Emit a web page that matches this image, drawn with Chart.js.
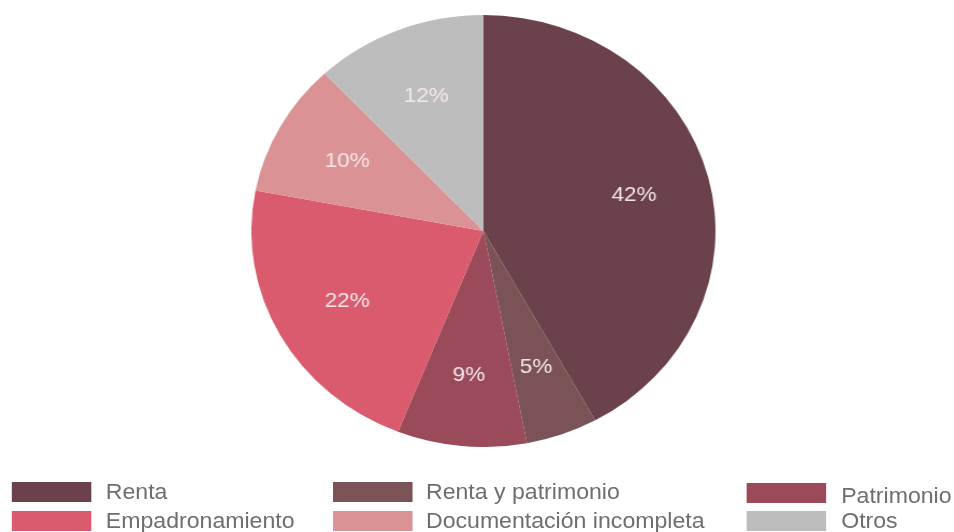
<!DOCTYPE html>
<html lang="es">
<head>
<meta charset="utf-8">
<title>Motivos</title>
<script src="https://cdn.jsdelivr.net/npm/chart.js@4/dist/chart.umd.min.js"></script>
<style>
  html, body { margin: 0; padding: 0; background: #fff; overflow: hidden; }
  /* the whole figure is drawn a little wider than tall */
  #stage {
    position: relative;
    width: 888px;
    height: 532px;
    transform: scaleX(1.0743);
    transform-origin: 0 0;
    font-family: "Liberation Sans", Arial, sans-serif;
  }
  #pie { position: absolute; left: 234px; top: 15px; }
  .item { position: absolute; height: 20px; }
  .item .box { position: absolute; left: 0; top: 0; width: 74px; height: 20px; }
  .item .txt {
    position: absolute; white-space: nowrap;
    font-size: 21.5px; line-height: 20px; color: #6e6e6e; top: 0;
  }
</style>
</head>
<body>
<div id="stage">
  <canvas id="pie" width="432" height="432"></canvas>
  <div id="legend"></div>
</div>
<script>
const categories = ["Renta", "Renta y patrimonio", "Patrimonio", "Empadronamiento", "Documentación incompleta", "Otros"];
const shares = [42, 5, 9, 22, 10, 12];
const colors = ["#6b414b", "#7b5255", "#9a4a59", "#d95b6d", "#db9294", "#bdbdbd"];

// legend grid: three columns, two rows, filled row by row
const legendCols = [
  { box: 11, text: 98.5 },
  { box: 310, text: 396.5 },
  { box: 695, text: 783 }
];
const legendRows = [482, 511];

const legend = document.getElementById("legend");
categories.forEach((name, i) => {
  const col = legendCols[i % 3];
  const top = legendRows[Math.floor(i / 3)] + (i === 2 ? 1 : 0);
  const item = document.createElement("div");
  item.className = "item";
  item.style.left = col.box + "px";
  item.style.top = top + "px";
  const box = document.createElement("div");
  box.className = "box";
  box.style.background = colors[i];
  const txt = document.createElement("div");
  txt.className = "txt";
  txt.style.left = (col.text - col.box) + "px";
  txt.style.top = (i === 2 ? 3 : 0) + "px";
  txt.textContent = name;
  item.appendChild(box);
  item.appendChild(txt);
  legend.appendChild(item);
});

// percentage labels placed at two thirds of the radius
const sliceLabels = {
  id: "sliceLabels",
  afterDatasetsDraw(chart) {
    const ctx = chart.ctx;
    const meta = chart.getDatasetMeta(0);
    ctx.save();
    ctx.font = "21px 'Liberation Sans', Arial, sans-serif";
    ctx.fillStyle = "#f5e6e9";
    ctx.textAlign = "center";
    ctx.textBaseline = "middle";
    meta.data.forEach((arc, i) => {
      const p = arc.getProps(["x", "y", "startAngle", "endAngle", "outerRadius"], true);
      const mid = (p.startAngle + p.endAngle) / 2;
      const r = p.outerRadius * 0.67;
      ctx.fillText(shares[i] + "%", p.x + Math.cos(mid) * r, p.y + Math.sin(mid) * r);
    });
    ctx.restore();
  }
};

new Chart(document.getElementById("pie").getContext("2d"), {
  type: "pie",
  data: {
    labels: categories,
    datasets: [{
      data: shares,
      backgroundColor: colors,
      borderWidth: 0
    }]
  },
  options: {
    responsive: false,
    animation: false,
    layout: { padding: 0 },
    plugins: {
      legend: { display: false },
      tooltip: { enabled: false }
    }
  },
  plugins: [sliceLabels]
});
</script>
</body>
</html>
